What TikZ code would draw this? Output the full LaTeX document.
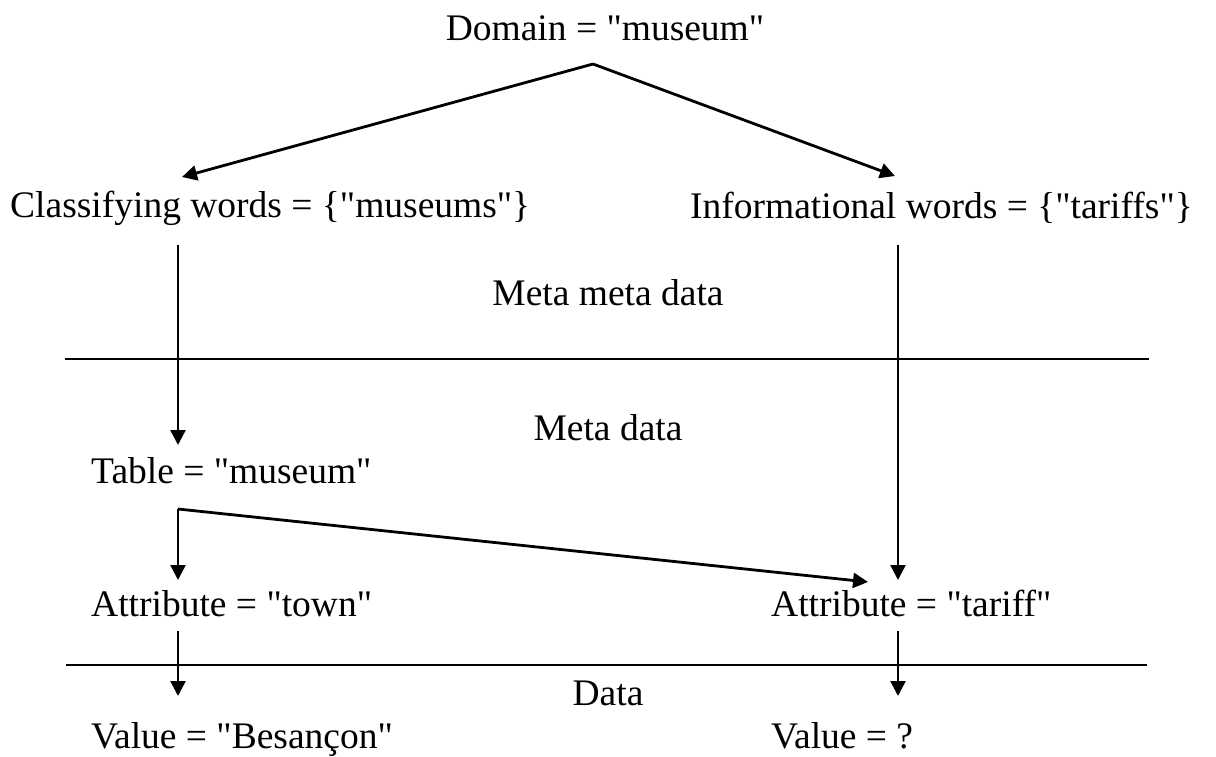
\documentclass[tikz,border=0pt]{standalone}
\usepackage{fontspec}
\setmainfont{Liberation Serif}[Ligatures=TeXOff]
\usetikzlibrary{arrows.meta}
\begin{document}
\begin{tikzpicture}[x=1pt,y=-1pt,
  lbl/.style={inner sep=0pt,font=\fontsize{37.5}{45}\selectfont},
  arr/.style={line width=2.4pt,-{Triangle[length=15pt,width=15pt]}},
  sep/.style={line width=2.8pt}]
\useasboundingbox (0,0) rectangle (1216,756);
% texts
\node[lbl,anchor=base] (dom) at (605,40) {Domain = "museum"};
\node[lbl,anchor=base west] (cls) at (10,217) {Classifying words = \{"museums"\}};
\node[lbl,anchor=base west] (inf) at (690,218) {Informational words = \{"tariffs"\}};
\node[lbl,anchor=base] (mmd) at (608,305) {Meta meta data};
\node[lbl,anchor=base] (md) at (608,440) {Meta data};
\node[lbl,anchor=base west] (tab) at (91,483) {Table = "museum"};
\node[lbl,anchor=base west] (atown) at (91,616) {Attribute = "town"};
\node[lbl,anchor=base west] (atar) at (771,616) {Attribute = "tariff"};
\node[lbl,anchor=base] (data) at (608,705) {Data};
\node[lbl,anchor=base west] (vbes) at (91,748) {Value = "Besançon"};
\node[lbl,anchor=base west] (vq) at (771,748) {Value = ?};
% connector ends
\coordinate (apex) at (593,64);
\coordinate (tipL) at (182,177);
\coordinate (tipR) at (895,176);
\coordinate (clsOut) at (178,245);
\coordinate (tabIn) at (178,445);
\coordinate (infOut) at (898,245);
\coordinate (atarIn) at (898,580);
\coordinate (tabOut) at (178,509);
\coordinate (atownIn) at (178,580);
\coordinate (atarInD) at (868,582);
\coordinate (atownOut) at (178,631);
\coordinate (vbesIn) at (178,696);
\coordinate (atarOut) at (898,631);
\coordinate (vqIn) at (898,696);
\coordinate (s1a) at (65,359);
\coordinate (s1b) at (1149,359);
\coordinate (s2a) at (66,665);
\coordinate (s2b) at (1147,665);
% separators
\draw[sep] (s1a) -- (s1b);
\draw[sep] (s2a) -- (s2b);
% arrows
\draw[arr,line width=2.8pt] (apex) -- (tipR);
\draw[arr,line width=2.8pt] (apex) -- (tipL);
\draw[arr] (clsOut) -- (tabIn);
\draw[arr] (infOut) -- (atarIn);
\draw[arr] (tabOut) -- (atownIn);
\draw[arr,line width=2.8pt] (tabOut) -- (atarInD);
\draw[arr] (atownOut) -- (vbesIn);
\draw[arr] (atarOut) -- (vqIn);
\end{tikzpicture}
\end{document}
